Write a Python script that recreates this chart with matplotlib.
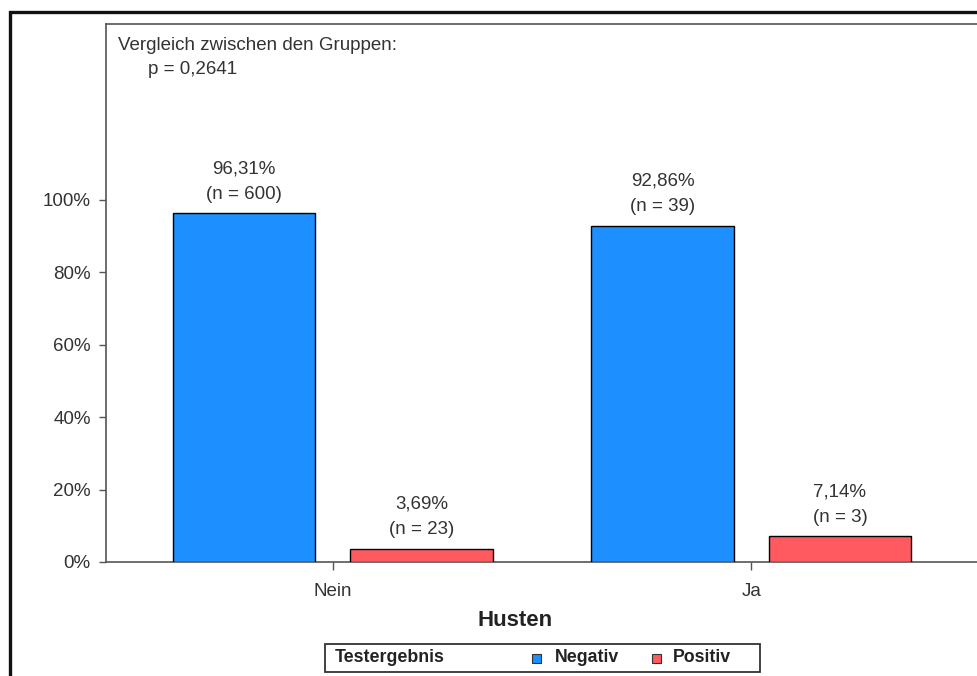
import matplotlib
matplotlib.use("Agg")
import matplotlib.pyplot as plt
from matplotlib.patches import Rectangle
import numpy as np

plt.rcParams['font.family'] = ['Liberation Sans', 'DejaVu Sans']

categories = ["Nein", "Ja"]
series_names = ["Negativ", "Positiv"]
pct_negativ = [96.31, 92.86]
pct_positiv = [3.69, 7.14]
n_negativ = [600, 39]
n_positiv = [23, 3]
colors = ["#1E8FFF", "#FF5A5F"]
yticks = [0, 20, 40, 60, 80, 100]
p_text = "p = 0,2641"
title_text = "Vergleich zwischen den Gruppen:"
xlabel = "Husten"
legend_title = "Testergebnis"

W, H = 978, 676
fig = plt.figure(figsize=(W / 100, H / 100), dpi=100)
fig.patch.set_facecolor("white")

def fx(px):
    return px / W

def fy(py):
    return 1 - py / H

FS = 13.5
ax = fig.add_axes([fx(106), fy(562), fx(978) - fx(106), fy(24) - fy(562)])
x = np.arange(len(categories))
bw = 0.341
off = 0.212
text_col = "#333333"

series = [(pct_negativ, n_negativ), (pct_positiv, n_positiv)]
for i, (vals, ns) in enumerate(series):
    pos = x + (-off if i == 0 else off)
    ax.bar(pos, vals, width=bw, color=colors[i], edgecolor="black", linewidth=1.0, zorder=3)
    for xp, v, n in zip(pos, vals, ns):
        lbl = f"{v:.2f}".replace(".", ",") + "%\n(n = " + str(n) + ")"
        ax.annotate(lbl, (xp, v), xytext=(0, 7.5), textcoords="offset points",
                    ha="center", va="bottom", fontsize=FS, color=text_col,
                    linespacing=1.65)

ax.set_xlim(-0.542, 1.542)
ax.set_ylim(0, 148.6)
ax.set_xticks(x)
ax.set_xticklabels(categories, fontsize=FS, color=text_col)
ax.set_yticks(yticks)
ax.set_yticklabels([f"{t}%" for t in yticks], fontsize=FS, color=text_col)
ax.tick_params(axis="x", length=6, width=1, color="#555555", pad=9)
ax.tick_params(axis="y", length=5, width=1, color="#555555", pad=6)
for s in ["left", "bottom", "top"]:
    ax.spines[s].set_color("#555555")
    ax.spines[s].set_linewidth(1.2)
ax.spines["right"].set_color("#dddddd")
ax.set_facecolor("white")

fig.text(fx(118), fy(45), title_text, ha="left", va="center", fontsize=FS, color=text_col)
fig.text(fx(148), fy(69), p_text, ha="left", va="center", fontsize=FS, color=text_col)

fig.text(fx(515), fy(620), xlabel, ha="center", va="center", fontsize=16,
         fontweight="bold", color="#222222")

# legend box
fig.add_artist(Rectangle((fx(325), fy(672)), fx(760) - fx(325), fy(644) - fy(672),
                         transform=fig.transFigure, fill=False, edgecolor="#333333", linewidth=1.3))
fig.text(fx(335), fy(658), legend_title, ha="left", va="center", fontsize=12.8,
         fontweight="bold", color="#222222")
leg_sq_x = [532, 652]
leg_txt_x = [555, 673]
for i, name in enumerate(series_names):
    fig.add_artist(Rectangle((fx(leg_sq_x[i]), fy(663)), fx(9), 9 / H,
                             transform=fig.transFigure, facecolor=colors[i],
                             edgecolor="#333333", linewidth=0.8))
    fig.text(fx(leg_txt_x[i]), fy(658), name, ha="left", va="center", fontsize=12.8,
             fontweight="bold", color="#222222")

# outer frame
fig.add_artist(Rectangle((fx(10), -0.1), 1.2, fy(12) + 0.1, transform=fig.transFigure,
                         fill=False, edgecolor="#111111", linewidth=2.4))

fig.savefig("out.png", dpi=100, facecolor="white")
